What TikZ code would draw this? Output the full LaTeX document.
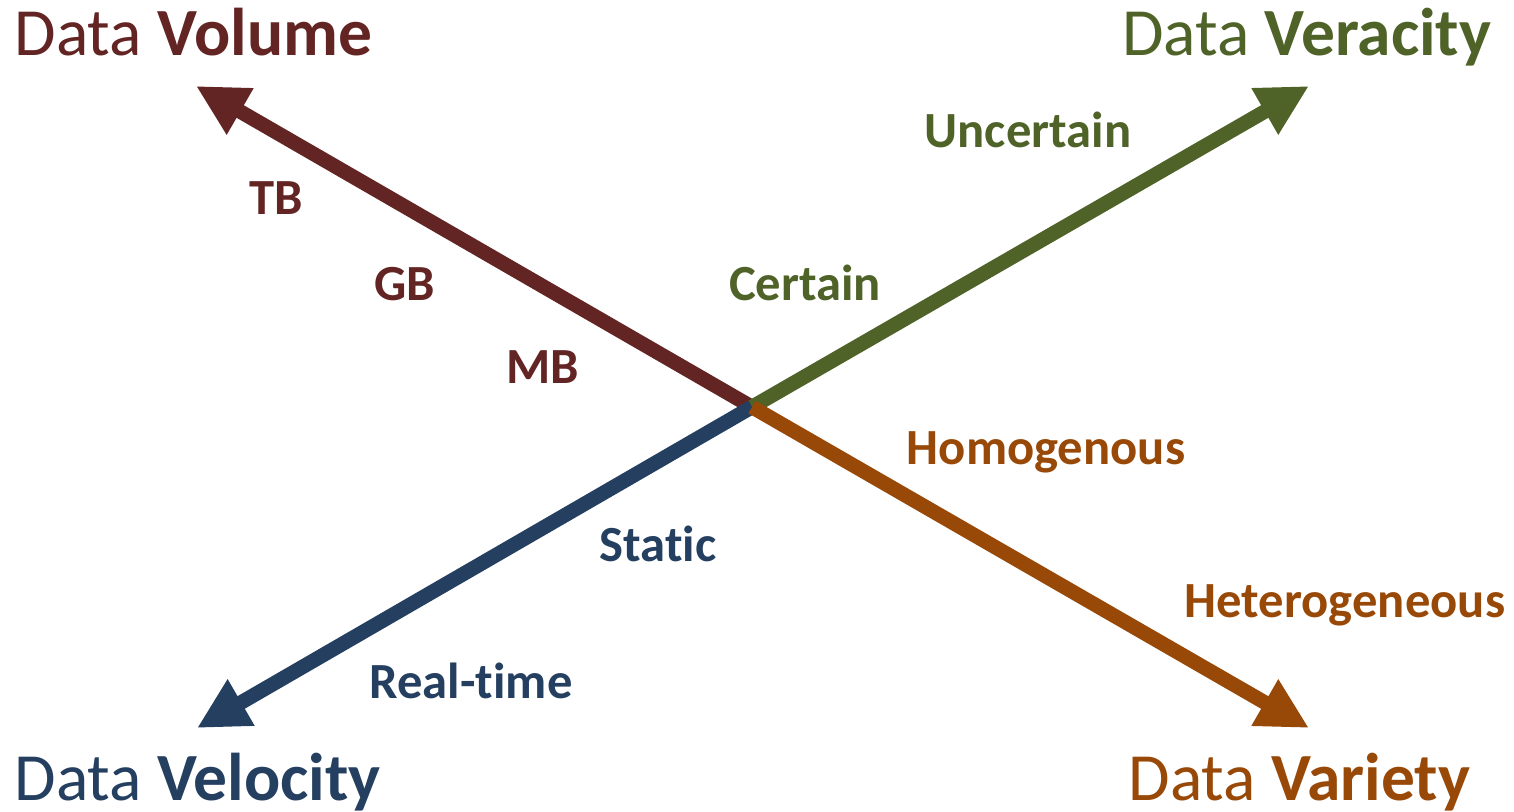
\documentclass[tikz,border=0pt]{standalone}
\usepackage{fontspec}
\setmainfont[RawFeature={-liga;-dlig}]{Carlito}
\usetikzlibrary{arrows.meta}

\definecolor{volc}{HTML}{632523}
\definecolor{verc}{HTML}{4F6228}
\definecolor{velc}{HTML}{243F60}
\definecolor{varc}{HTML}{984807}

\tikzset{
  axis/.style={line width=0.145cm, -{Triangle[length=0.51cm, width=0.50cm]}},
  title/.style={inner sep=0pt, font=\fontsize{19.2pt}{21pt}\selectfont},
  tick/.style={inner sep=0pt, anchor=base, font=\fontsize{14.4pt}{16pt}\selectfont\bfseries},
}

\begin{document}
\begin{tikzpicture}[x=0.01cm, y=-0.01cm]
  \useasboundingbox (0,0) rectangle (1514,812);

  % origin and arrow ends
  \coordinate (o)   at (752,407);
  \coordinate (vol) at (196,86);
  \coordinate (ver) at (1309,86);
  \coordinate (vel) at (197,728);
  \coordinate (var) at (1309,728);

  % the four axes
  \draw[axis, volc] (o) -- (vol);
  \draw[axis, verc] (o) -- (ver);
  \draw[axis, velc] (o) -- (vel);
  \draw[axis, varc] (o) -- (var);

  % axis titles
  \node[title, anchor=base west, text=volc] (tvol) at (14,55) {Data \textbf{Volume}};
  \node[title, anchor=base east, text=verc] (tver) at (1492,55) {Data \textbf{Veracity}};
  \node[title, anchor=base west, text=velc] (tvel) at (14,800) {Data \textbf{Velocity}};
  \node[title, anchor=base west, text=varc] (tvar) at (1128,800) {Data \textbf{Variety}};

  % volume scale
  \node[tick, text=volc] (tb) at (276,214) {TB};
  \node[tick, text=volc] (gb) at (405,300) {GB};
  \node[tick, text=volc] (mb) at (543,383) {MB};

  % veracity scale
  \node[tick, text=verc] (unc) at (1028,147) {Uncertain};
  \node[tick, text=verc] (cer) at (805,300) {Certain};

  % variety scale
  \node[tick, text=varc] (hom) at (1046,464) {Homogenous};
  \node[tick, text=varc] (het) at (1345,617) {Heterogeneous};

  % velocity scale
  \node[tick, text=velc] (sta) at (658,561) {Static};
  \node[tick, text=velc] (rt)  at (471,698) {Real-time};
\end{tikzpicture}
\end{document}
